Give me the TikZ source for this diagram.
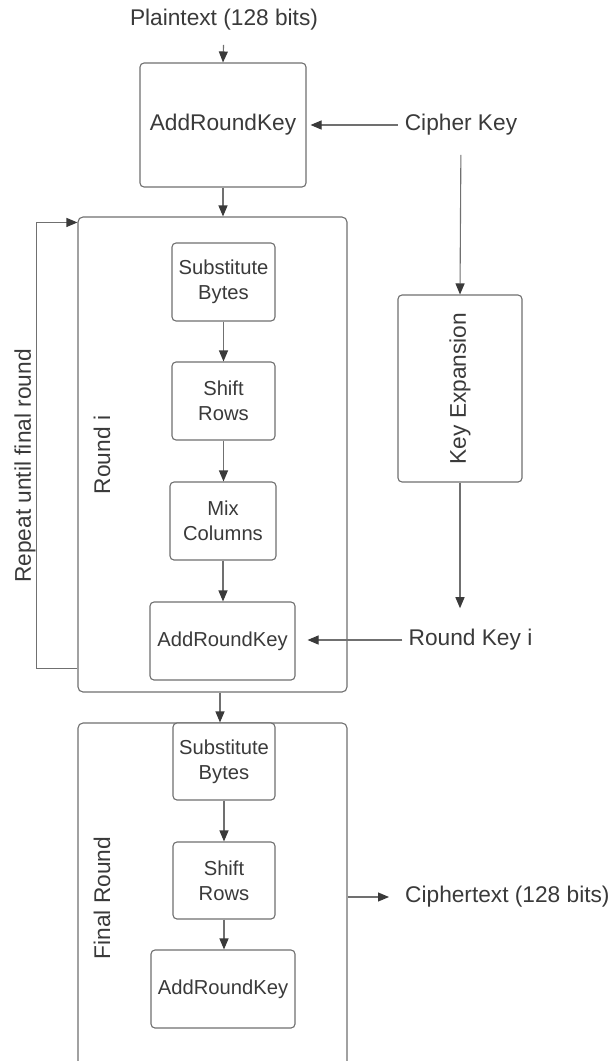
\documentclass[tikz,border=0pt]{standalone}
\usepackage{fontspec}
\setmainfont{Liberation Sans}
\usetikzlibrary{arrows.meta}
\definecolor{ink}{HTML}{3A3A3A}
\definecolor{edge}{HTML}{707070}
\begin{document}
\begin{tikzpicture}[x=1pt,y=-1pt,
  lbl/.style={text=ink, font=\fontsize{22.7}{27}\selectfont, inner sep=0pt},
  blk/.style={draw=edge, fill=white, line width=1.1pt, rounded corners=4pt, text=ink,
    font=\fontsize{20.2}{25}\selectfont, align=center, inner sep=0pt},
  frame/.style={draw=edge, line width=1.1pt, rounded corners=5pt, inner sep=0pt},
  arr/.style={draw=edge, line width=1.1pt, -{Triangle[length=11pt,width=9pt,color=ink]}}
]
\clip (0,0) rectangle (614,1061);
\fill[white] (0,0) rectangle (614,1061);

% outer round frames
\node[frame, minimum width=269pt, minimum height=475pt] (rnd) at (212.5,454.5) {};
\node[frame, minimum width=269pt, minimum height=357pt] (fin) at (212.5,901.5) {};

% initial key addition
\node[lbl] (pt) at (224,20) {Plaintext (128 bits)};
\node[blk, font=\fontsize{22.7}{27}\selectfont, minimum width=166pt, minimum height=124pt] (box1) at (223,125) {AddRoundKey};
\node[lbl] (ck) at (461,125) {Cipher Key};

% round i steps
\node[blk, minimum width=103pt, minimum height=78pt] (sb1) at (223.5,282) {Substitute\\Bytes};
\node[blk, minimum width=103pt, minimum height=78pt] (sr1) at (223.5,401) {Shift\\Rows};
\node[blk, minimum width=106pt, minimum height=78pt] (mc1) at (223,521) {Mix\\Columns};
\node[blk, minimum width=145pt, minimum height=78pt] (ark1) at (222.5,641) {AddRoundKey};

% key schedule
\node[blk, font=\fontsize{22.7}{27}\selectfont, minimum width=124pt, minimum height=187pt] (kexp) at (460,388.5) {\rotatebox{90}{Key Expansion}};
\node[lbl] (rk) at (470.5,640) {Round Key i};

% final round steps
\node[blk, minimum width=102pt, minimum height=77pt] (sb2) at (224,761.5) {Substitute\\Bytes};
\node[blk, minimum width=102pt, minimum height=77pt] (sr2) at (224,880.5) {Shift\\Rows};
\node[blk, minimum width=144pt, minimum height=78pt] (ark2) at (223,989) {AddRoundKey};
\node[lbl, anchor=west] (ct) at (405,897) {Ciphertext (128 bits)};

% rotated captions
\node[lbl, rotate=90] (rep) at (25,466) {Repeat until final round};
\node[lbl, rotate=90] (rlbl) at (102,455) {Round i};
\node[lbl, rotate=90] (flbl) at (102,898) {Final Round};

% connectors
\draw[arr, shorten <=14pt] (pt.south) -- (box1.north);
\draw[arr, shorten <=7pt, shorten >=4pt] (ck.west) -- (ck.west -| box1.east);
\draw[arr, shorten <=19pt] (ck.south) -- (kexp.north);
\draw[arr] (box1.south) -- (box1.south |- rnd.north);
\draw[arr] (sb1.south) -- (sr1.north);
\draw[arr] (sr1.south) -- (sr1.south |- mc1.north);
\draw[arr] (mc1.south) -- (mc1.south |- ark1.north);
\draw[arr, shorten >=21pt] (kexp.south) -- (kexp.south |- rk.north);
\draw[arr, shorten <=6pt, shorten >=12pt] (rk.west) -- (rk.west -| ark1.east);
\draw[arr] ([yshift=24pt]rnd.south west) -- ++(-41,0) |- ([yshift=-6pt]rnd.north west);
\draw[arr] ([xshift=-4pt]sb2.north |- rnd.south) -- ([xshift=-4pt]sb2.north);
\draw[arr] (sb2.south) -- (sr2.north);
\draw[arr] (sr2.south) -- (sr2.south |- ark2.north);
\draw[arr, shorten >=16pt] (fin.east |- ct.west) -- (ct.west);
\end{tikzpicture}
\end{document}
